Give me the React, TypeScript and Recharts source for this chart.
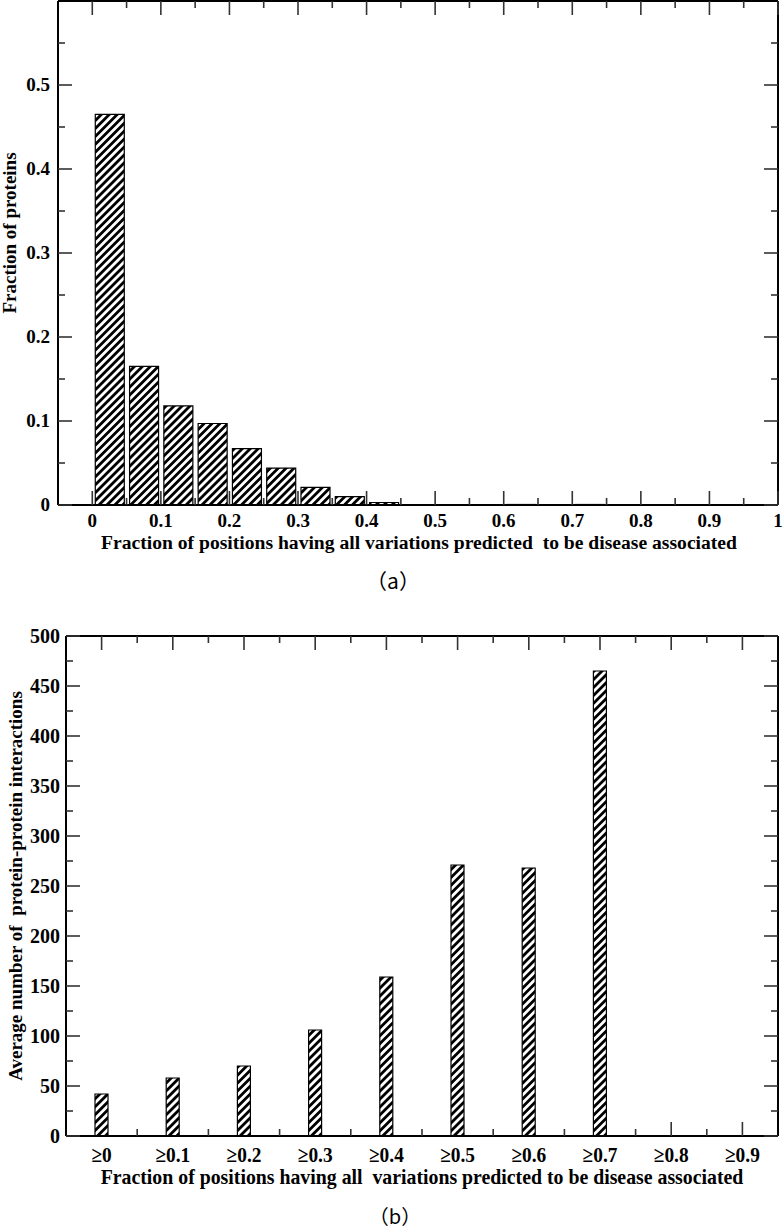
import React from "react";
import { BarChart, Bar, XAxis, YAxis } from "recharts";

// ---- panel (a): histogram of proteins ----
const binCentersA = [
  0.025, 0.075, 0.125, 0.175, 0.225, 0.275, 0.325, 0.375, 0.425, 0.475,
  0.525, 0.575, 0.625, 0.675, 0.725, 0.775, 0.825, 0.875, 0.925, 0.975,
];
const proteinFractions = [
  0.465, 0.165, 0.118, 0.097, 0.067, 0.044, 0.021, 0.01, 0.003, 0,
  0, 0, 0.0006, 0, 0.0006, 0, 0, 0, 0, 0,
];
const xMajorA = [0, 0.1, 0.2, 0.3, 0.4, 0.5, 0.6, 0.7, 0.8, 0.9, 1];
const xMinorA = [0.05, 0.15, 0.25, 0.35, 0.45, 0.55, 0.65, 0.75, 0.85, 0.95];
const yMajorA = [0, 0.1, 0.2, 0.3, 0.4, 0.5];
const yMinorA = [0.05, 0.15, 0.25, 0.35, 0.45, 0.55];

// ---- panel (b): average PPI per threshold ----
const thresholdLabels = ["≥0", "≥0.1", "≥0.2", "≥0.3", "≥0.4", "≥0.5", "≥0.6", "≥0.7", "≥0.8", "≥0.9"];
const avgInteractions = [42, 58, 70, 106, 159, 271, 268, 465, 0, 0];
const yMajorB = [0, 50, 100, 150, 200, 250, 300, 350, 400, 450, 500];
const yMinorB = [25, 75, 125, 175, 225, 275, 325, 375, 425, 475];

const histData = binCentersA.map((x, i) => ({ x, value: proteinFractions[i] }));
const ppiData = thresholdLabels.map((label, i) => ({ label, value: avgInteractions[i] }));

const SERIF = "'Liberation Serif', 'Times New Roman', serif";
const TICK_COLOR = "#333";
const FRAME = { stroke: "#000", strokeWidth: 2 };

// axes are 1px thick boxes (recharts skips 0-size axes), margins compensate
const A = { w: 783, h: 560, top: 0, left: 57, right: 4, bottom: 54 };
const B = { w: 783, h: 620, top: 45, left: 65, right: 4, bottom: 73, y0: 590 };
const bandB = (B.w - B.left - B.right - 2) / thresholdLabels.length;

type Side = "bottom" | "top" | "left" | "right";

function numTick(side: Side, majors: number[], label: boolean, fontSize: number, labelGap: number) {
  return (props: any) => {
    const { x, y, payload } = props;
    const v = payload.value;
    const major = majors.includes(v);
    const len = major ? 14 : 7;
    let line;
    if (side === "bottom") line = <line x1={x} x2={x} y1={y} y2={y - len} />;
    else if (side === "top") line = <line x1={x} x2={x} y1={y} y2={y + len} />;
    else if (side === "left") line = <line x1={x} x2={x + len} y1={y} y2={y} />;
    else line = <line x1={x} x2={x - len} y1={y} y2={y} />;
    return (
      <g>
        <g stroke={TICK_COLOR} strokeWidth={1.6}>{line}</g>
        {label && major && side === "bottom" && (
          <text x={x} y={y + labelGap} textAnchor="middle" fontFamily={SERIF} fontWeight="bold" fontSize={fontSize} fill="#000">
            {String(v)}
          </text>
        )}
        {label && major && side === "left" && (
          <text x={x - labelGap} y={y + fontSize * 0.33} textAnchor="end" fontFamily={SERIF} fontWeight="bold" fontSize={fontSize} fill="#000">
            {String(v)}
          </text>
        )}
      </g>
    );
  };
}

function catTick(side: "bottom" | "top") {
  return (props: any) => {
    const { x, y, payload, index } = props;
    const dir = side === "bottom" ? -1 : 1;
    const last = index === thresholdLabels.length - 1;
    // the bars sit on top of the bottom centre ticks
    const hidden = side === "bottom" && avgInteractions[index] > 0;
    return (
      <g>
        <g stroke={TICK_COLOR} strokeWidth={1.6}>
          {!hidden && <line x1={x} x2={x} y1={y} y2={y + dir * 14} />}
          {!last && <line x1={x + bandB / 2} x2={x + bandB / 2} y1={y} y2={y + dir * 7} />}
        </g>
        {side === "bottom" && (
          <text
            transform={`translate(${x},${y + 26}) scale(0.88,1)`}
            textAnchor="middle"
            fontFamily={SERIF}
            fontWeight="bold"
            fontSize={22}
            fill="#000"
          >
            {payload.value}
          </text>
        )}
      </g>
    );
  };
}

function Hatch({ id }: { id: string }) {
  return (
    <defs>
      <pattern id={id} patternUnits="userSpaceOnUse" width={5.6} height={5.6} patternTransform="rotate(45)">
        <rect x={0} y={0} width={5.6} height={5.6} fill="#fff" />
        <rect x={0} y={0} width={2.8} height={5.6} fill="#000" />
      </pattern>
    </defs>
  );
}

const textBase: React.CSSProperties = {
  position: "absolute",
  fontFamily: SERIF,
  fontWeight: "bold",
  color: "#000",
  whiteSpace: "nowrap",
  lineHeight: "22px",
  transform: "translate(-50%, -50%)",
};

const axisCommon = {
  interval: 0 as const,
  tickSize: 0,
  tickMargin: 0,
  axisLine: FRAME,
  tickLine: false,
};

export default function App() {
  return (
    <div style={{ position: "absolute", left: 0, top: 0, width: 783, height: 1232, background: "#fff", overflow: "hidden" }}>
      <div style={{ position: "absolute", left: 0, top: 0 }}>
        <BarChart
          width={A.w}
          height={A.h}
          data={histData}
          margin={{ top: A.top, right: A.right, left: A.left, bottom: A.bottom }}
        >
          <Hatch id="hatchA" />
          <XAxis
            {...axisCommon}
            dataKey="x"
            type="number"
            domain={[-0.05, 1]}
            ticks={[...xMajorA, ...xMinorA]}
            height={1}
            tick={numTick("bottom", xMajorA, true, 19, 22)}
            allowDataOverflow
          />
          <XAxis
            {...axisCommon}
            xAxisId="top"
            orientation="top"
            dataKey="x"
            type="number"
            domain={[-0.05, 1]}
            ticks={[...xMajorA, ...xMinorA]}
            height={1}
            tick={numTick("top", xMajorA, false, 19, 0)}
            allowDataOverflow
          />
          <YAxis
            {...axisCommon}
            type="number"
            domain={[0, 0.6]}
            ticks={[...yMajorA, ...yMinorA]}
            width={1}
            tick={numTick("left", yMajorA, true, 19, 8)}
            allowDataOverflow
          />
          <YAxis
            {...axisCommon}
            yAxisId="right"
            orientation="right"
            type="number"
            domain={[0, 0.6]}
            ticks={[...yMajorA, ...yMinorA]}
            width={1}
            tick={numTick("right", yMajorA, false, 19, 0)}
            allowDataOverflow
          />
          <Bar dataKey="value" fill="url(#hatchA)" stroke="#000" strokeWidth={1.2} barSize={29} isAnimationActive={false} />
        </BarChart>
      </div>

      <div style={{ ...textBase, left: 419, top: 543, fontSize: 19.6 }}>
        Fraction of positions having all variations predicted&nbsp; to be disease associated
      </div>
      <div style={{ ...textBase, left: 10, top: 233, fontSize: 19, transform: "translate(-50%, -50%) rotate(-90deg)" }}>
        Fraction of proteins
      </div>
      <div style={{ ...textBase, left: 393, top: 580, fontSize: 21, fontWeight: "normal", fontFamily: "'Noto Sans CJK SC', sans-serif" }}>
        （a）
      </div>

      <div style={{ position: "absolute", left: 0, top: B.y0 }}>
        <BarChart
          width={B.w}
          height={B.h}
          data={ppiData}
          margin={{ top: B.top, right: B.right, left: B.left, bottom: B.bottom }}
        >
          <Hatch id="hatchB" />
          <XAxis {...axisCommon} dataKey="label" type="category" height={1} tick={catTick("bottom")} />
          <XAxis {...axisCommon} xAxisId="top" orientation="top" dataKey="label" type="category" height={1} tick={catTick("top")} />
          <YAxis
            {...axisCommon}
            type="number"
            domain={[0, 500]}
            ticks={[...yMajorB, ...yMinorB]}
            width={1}
            tick={numTick("left", yMajorB, true, 20, 6)}
            allowDataOverflow
          />
          <YAxis
            {...axisCommon}
            yAxisId="right"
            orientation="right"
            type="number"
            domain={[0, 500]}
            ticks={[...yMajorB, ...yMinorB]}
            width={1}
            tick={numTick("right", yMajorB, false, 20, 0)}
            allowDataOverflow
          />
          <Bar dataKey="value" fill="url(#hatchB)" stroke="#000" strokeWidth={1.2} barSize={13} isAnimationActive={false} />
        </BarChart>
      </div>

      <div style={{ ...textBase, left: 422, top: 1177, fontSize: 22, transform: "translate(-50%, -50%) scaleX(0.9)" }}>
        Fraction of positions having all&nbsp; variations predicted to be disease associated
      </div>
      <div style={{ ...textBase, left: 16, top: 886, fontSize: 19, transform: "translate(-50%, -50%) rotate(-90deg)" }}>
        Average number of&nbsp; protein-protein interactions
      </div>
      <div style={{ ...textBase, left: 395, top: 1216, fontSize: 20, lineHeight: "20px", fontWeight: "normal", fontFamily: "'Noto Sans CJK SC', sans-serif" }}>
        （b）
      </div>
    </div>
  );
}
